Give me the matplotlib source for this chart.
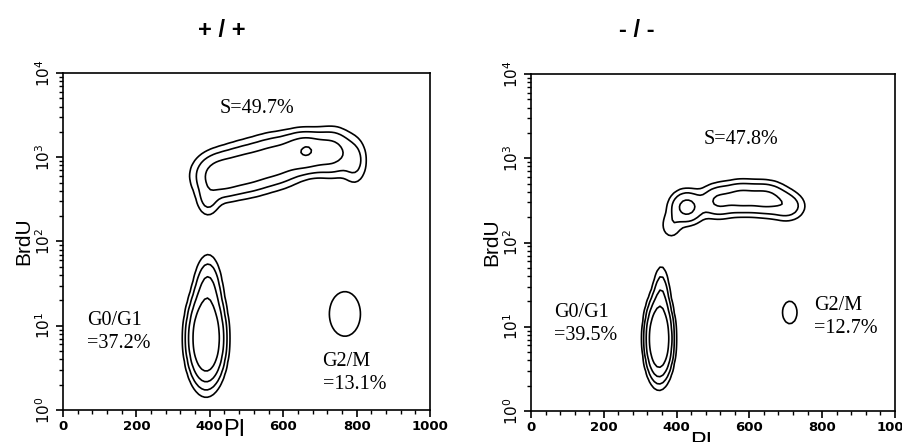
import numpy as np
import matplotlib.pyplot as plt
from matplotlib.ticker import LogLocator, MultipleLocator, NullFormatter, FixedLocator

# population components: PI centre, log10(BrdU) centre, sd PI, sd log, weight
# +/+ panel
wt_x = [390, 395, 395, 425, 500, 580, 660, 665, 735, 795, 768]
wt_ly = [0.85, 1.4, 2.5, 2.78, 2.86, 2.96, 3.06, 3.09, 3.06, 2.95, 1.14]
wt_sx = [23, 19, 18, 38, 42, 42, 36, 12, 32, 20, 40]
wt_sy = [0.25, 0.22, 0.12, 0.15, 0.16, 0.16, 0.13, 0.05, 0.15, 0.16, 0.25]
wt_w = [1.0, 0.15, 0.06, 0.18, 0.17, 0.17, 0.25, 0.07, 0.15, 0.06, 0.035]

# -/- panel
ko_x = [352, 358, 385, 428, 512, 575, 645, 705, 711]
ko_ly = [0.86, 1.35, 2.2, 2.42, 2.49, 2.53, 2.52, 2.43, 1.17]
ko_sx = [17, 12, 18, 26, 28, 32, 34, 28, 30]
ko_sy = [0.22, 0.2, 0.1, 0.11, 0.11, 0.11, 0.11, 0.1, 0.2]
ko_w = [1.0, 0.1, 0.04, 0.16, 0.12, 0.14, 0.15, 0.08, 0.025]

levels = [0.02, 0.05, 0.12, 0.3]

titles = ["+ / +", "- / -"]
s_lab = ["S=49.7%", "S=47.8%"]
g1_lab = ["G0/G1\n=37.2%", "G0/G1\n=39.5%"]
g2_lab = ["G2/M\n=13.1%", "G2/M\n=12.7%"]
s_pos = [(528, 10**3.58), (578, 10**3.22)]
g1_pos = [(66, 10**0.93), (64, 10**1.03)]
g2_pos = [(707, 10**0.44), (778, 10**1.12)]


def density(xs, lys, sxs, sys_, ws, gx, gly):
    z = np.zeros_like(gx)
    for x0, y0, sx, sy, w in zip(xs, lys, sxs, sys_, ws):
        z += w * np.exp(-0.5 * ((gx - x0) / sx) ** 2 - 0.5 * ((gly - y0) / sy) ** 2)
    return z


gpi = np.linspace(0, 1000, 128)
glog = np.linspace(0, 4, 128)
GX, GL = np.meshgrid(gpi, glog)

fig = plt.figure(figsize=(9.02, 4.42), dpi=100)
axes = [fig.add_axes([0.0698, 0.0724, 0.407, 0.7625]),
        fig.add_axes([0.5887, 0.070, 0.4035, 0.7626])]
panels = [(wt_x, wt_ly, wt_sx, wt_sy, wt_w), (ko_x, ko_ly, ko_sx, ko_sy, ko_w)]
pi_lab_y = [-0.06, -0.095]

serif = ['Liberation Serif', 'DejaVu Serif']
for i, ax in enumerate(axes):
    Z = density(*panels[i], GX, GL)
    ax.contour(GX, 10 ** GL, Z, levels=levels, colors='black', linewidths=1.2)
    ax.set_yscale('log')
    ax.set_xlim(0, 1000)
    ax.set_ylim(1, 1e4)
    ax.xaxis.set_major_locator(MultipleLocator(200))
    ax.xaxis.set_minor_locator(MultipleLocator(40))
    ax.yaxis.set_major_locator(FixedLocator([1, 10, 100, 1000, 10000]))
    ax.yaxis.set_minor_locator(LogLocator(base=10, subs=np.arange(2, 10)))
    ax.yaxis.set_minor_formatter(NullFormatter())
    ax.set_yticklabels([r'$10^{0}$', r'$10^{1}$', r'$10^{2}$', r'$10^{3}$', r'$10^{4}$'],
                       rotation=90, va='center', fontsize=11)
    for lab in ax.get_xticklabels():
        lab.set_fontweight('bold')
        lab.set_fontsize(9.5)
    ax.tick_params(which='major', direction='out', length=5, width=1.2, pad=2)
    ax.tick_params(which='minor', direction='out', length=3, width=1)
    for sp in ax.spines.values():
        sp.set_linewidth(1.2)
    ax.set_xlabel('PI', fontsize=17, family='Liberation Sans', va='center')
    ax.xaxis.set_label_coords(0.467, pi_lab_y[i])
    ax.set_ylabel('BrdU', fontsize=15, family='Liberation Sans', labelpad=1)

    ax.text(s_pos[i][0], s_pos[i][1], s_lab[i], family=serif, fontsize=14.5,
            ha='center', va='center')
    ax.text(g1_pos[i][0], g1_pos[i][1], g1_lab[i], family=serif, fontsize=14.5,
            ha='left', va='center', linespacing=1.3)
    ax.text(g2_pos[i][0], g2_pos[i][1], g2_lab[i], family=serif, fontsize=14.5,
            ha='left', va='center', linespacing=1.3)

fig.text(0.246, 0.932, titles[0], fontsize=17, fontweight='bold',
         family='Liberation Sans', ha='center', va='center')
fig.text(0.706, 0.932, titles[1], fontsize=17, fontweight='bold',
         family='Liberation Sans', ha='center', va='center')

fig.savefig('out.png', dpi=100)
